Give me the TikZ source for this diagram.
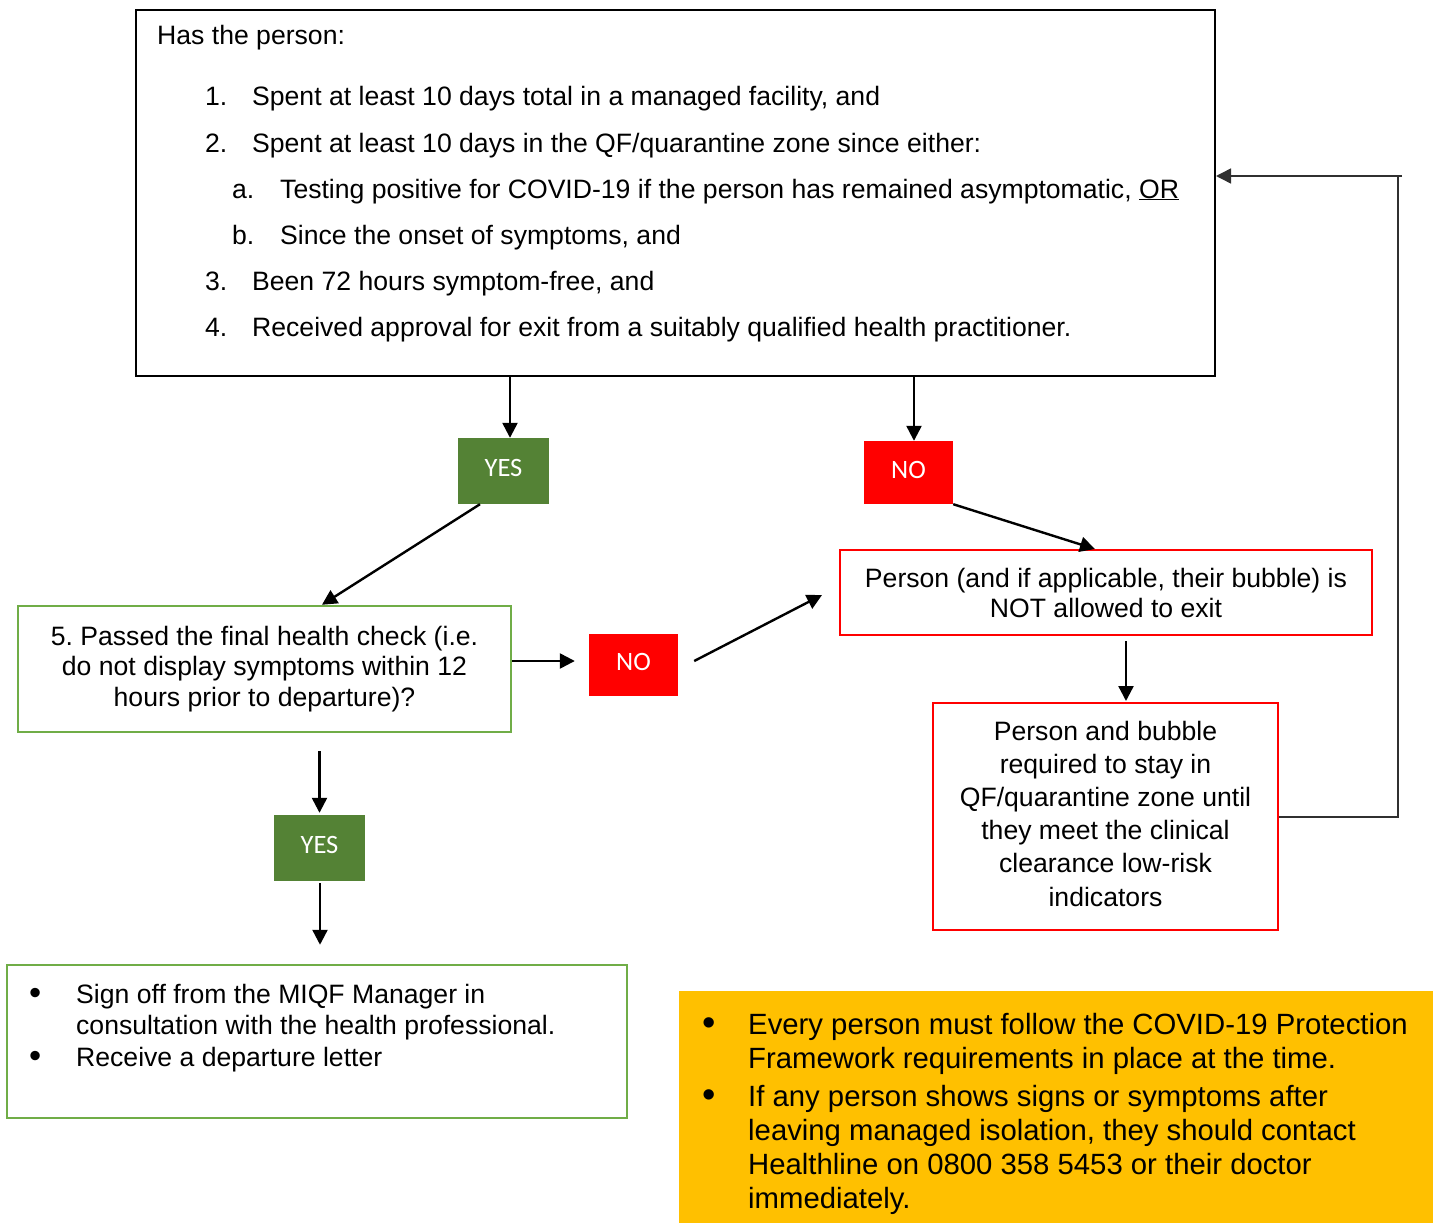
\documentclass[tikz,border=0pt]{standalone}
\usepackage{fontspec}
\setmainfont{Liberation Sans}
\newfontfamily\ynfont{Carlito}
\usetikzlibrary{arrows.meta}
\definecolor{ygreen}{HTML}{548235}
\definecolor{bgreen}{HTML}{70AD47}
\definecolor{amber}{HTML}{FFC000}
\definecolor{loopgray}{HTML}{303030}
\newcommand\fsmain{\fontsize{26.6pt}{30.6pt}\selectfont}
\newcommand\fsbig{\fontsize{29.3pt}{34pt}\selectfont}
\newcommand\lbrk{\hfil\break}
\newcommand\bigbul{\raisebox{-0.05em}{\scalebox{1.3}{\textbullet}}}
\frenchspacing
\begin{document}
\begin{tikzpicture}[x=1pt,y=-1pt,
  box/.style={draw, line width=2pt, inner sep=0pt, rectangle},
  lbl/.style={inner sep=0pt, anchor=base west, font=\fsmain},
  tagbox/.style={rectangle, inner sep=0pt, text=white, text depth=6pt,
     font=\ynfont\fontsize{26.5pt}{30pt}\selectfont},
  yesbox/.style={tagbox, fill=ygreen},
  nobox/.style={tagbox, fill=red},
  arr/.style={line width=2.4pt, -{Triangle[length=15pt,width=15pt]}},
  looparr/.style={line width=1.5pt, loopgray, -{Triangle[length=15pt,width=15pt]}},
  loopline/.style={line width=1.5pt, loopgray}
]
\useasboundingbox (0,0) rectangle (1438,1223);

% top question box
\node[box, minimum width=1079pt, minimum height=366pt] (top) at (675.5,193) {};
\node[lbl] (q0) at (157,45) {Has the person:};
\node[lbl] (q1) at (205,106) {\makebox[47pt][l]{1.}Spent at least 10 days total in a managed facility, and};
\node[lbl] (q2) at (205,152) {\makebox[47pt][l]{2.}Spent at least 10 days in the QF/quarantine zone since either:};
\node[lbl] (q2a) at (232,198) {\makebox[48pt][l]{a.}Testing positive for COVID-19 if the person has remained asymptomatic, \underline{OR}};
\node[lbl] (q2b) at (232,244) {\makebox[48pt][l]{b.}Since the onset of symptoms, and};
\node[lbl] (q3) at (205,290) {\makebox[47pt][l]{3.}Been 72 hours symptom-free, and};
\node[lbl] (q4) at (205,336) {\makebox[47pt][l]{4.}Received approval for exit from a suitably qualified health practitioner.};

% YES / NO tags
\node[yesbox, minimum width=91pt, minimum height=66pt] (yes1) at (503.5,471) {YES};
\node[nobox, minimum width=89pt, minimum height=63pt] (no1) at (908.5,472.5) {NO};
\node[nobox, minimum width=89pt, minimum height=62pt] (no2) at (633.5,665) {NO};
\node[yesbox, minimum width=91pt, minimum height=66pt] (yes2) at (319.5,848) {YES};

% health check box
\node[box, draw=bgreen, line width=2.5pt, minimum width=493pt, minimum height=126pt,
      align=center, font=\fontsize{26.6pt}{30.5pt}\selectfont] (check) at (264.5,669)
  {5. Passed the final health check (i.e.\\do not display symptoms within 12\\hours prior to departure)?};

% red boxes
\node[box, draw=red, minimum width=532pt, minimum height=85pt, align=center,
      font=\fontsize{26.6pt}{30pt}\selectfont] (red1) at (1106,592.5)
  {Person (and if applicable, their bubble) is\\NOT allowed to exit};
\node[box, draw=red, minimum width=345pt, minimum height=227pt, align=center,
      font=\fontsize{26.6pt}{33.2pt}\selectfont] (red2) at (1105.5,816.5)
  {Person and bubble\\required to stay in\\QF/quarantine zone until\\they meet the clinical\\clearance low-risk\\indicators\rule[-6pt]{0pt}{1pt}};

% final box
\node[box, draw=bgreen, line width=2.5pt, minimum width=620pt, minimum height=153pt] (final) at (317,1041.5) {};
\node[inner sep=0pt, anchor=base west] (finaltext) at (29,1003) {\parbox[t]{580pt}{\fontsize{26.6pt}{31.5pt}\selectfont\raggedright
  \hangindent=47pt\hangafter=1\makebox[47pt][l]{\bigbul}Sign off from the MIQF Manager in\lbrk consultation with the health professional.\par
  \hangindent=47pt\hangafter=1\makebox[47pt][l]{\bigbul}Receive a departure letter}};

% amber note
\node[rectangle, fill=amber, inner sep=0pt, minimum width=754pt, minimum height=232pt] (note) at (1056,1107) {};
\node[inner sep=0pt, anchor=base west] (notetext) at (702,1034) {\parbox[t]{725pt}{\fsbig\raggedright\parskip=4pt
  \hangindent=46pt\hangafter=1\makebox[46pt][l]{\bigbul}Every person must follow the COVID-19 Protection\lbrk Framework requirements in place at the time.\par
  \hangindent=46pt\hangafter=1\makebox[46pt][l]{\bigbul}If any person shows signs or symptoms after\lbrk leaving managed isolation, they should contact\lbrk Healthline on 0800 358 5453 or their doctor\lbrk immediately.}};

% connectors
\draw[arr] ([xshift=6.5pt]yes1.north |- top.south) -- ([xshift=6.5pt]yes1.north);
\draw[arr] ([xshift=5.5pt]no1.north |- top.south) -- ([xshift=5.5pt]no1.north);
\draw[arr] ([xshift=-23.5pt]yes1.south) -- ([xshift=57.5pt]check.north);
\draw[arr] ([yshift=8pt]check.east) -- ([xshift=-14pt,yshift=4pt]no2.west);
\draw[arr] ([xshift=16pt,yshift=4pt]no2.east) -- ([xshift=-17pt,yshift=-2.5pt]red1.west);
\draw[arr] (no1.south east) -- ([xshift=-11pt]red1.north);
\draw[arr] ([xshift=20pt,yshift=-5pt]red1.south) -- ([xshift=20.5pt,yshift=1pt]red2.north);
\draw[arr] ([yshift=-18pt]check.south -| yes2.north) -- ([yshift=2pt]yes2.north);
\draw[arr] ([xshift=0.5pt,yshift=-2pt]yes2.south) -- ([xshift=0.5pt,yshift=19pt]yes2.south |- final.north);

% feedback loop
\coordinate (lp1) at (1398,817);
\coordinate (lp2) at (1398,176);
\coordinate (lp3) at (1402,176);
\draw[loopline] (red2.east |- lp1) -- (lp1) -- (lp2);
\draw[looparr] (lp3) -- (top.east |- lp3);
\end{tikzpicture}
\end{document}
